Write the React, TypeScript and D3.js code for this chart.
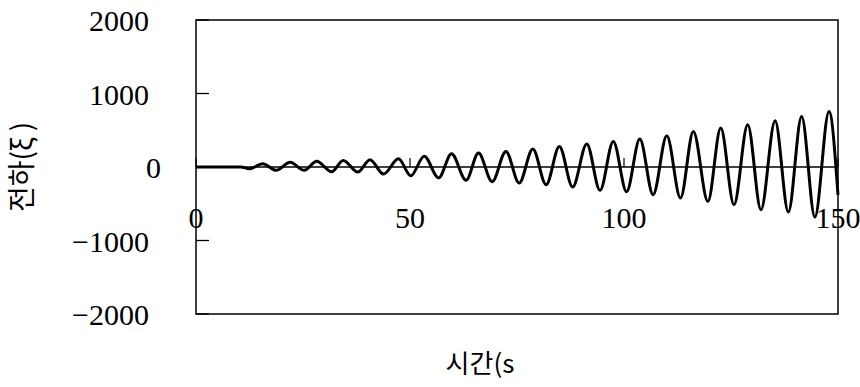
import React from "react";
import * as d3 from "d3";

const times = [
  0, 10.5, 12.5, 15.6, 18.7, 22.0, 25.3, 28.2, 31.7, 34.4, 37.8, 40.65, 43.8, 47.3,
  50.2, 53.3, 56.7, 59.7, 63.1, 66.0, 69.2, 72.4, 75.5, 78.7, 81.8, 84.9, 88.0,
  91.3, 94.4, 97.5, 100.6, 103.7, 106.8, 110.0, 113.2, 116.2, 119.6, 122.6, 125.7,
  128.9, 132.0, 135.3, 138.4, 141.5, 144.6, 147.9, 150,
];
const values = [
  0, 0, -25, 45, -45, 63, -45, 79, -65, 88, -69, 99, -96, 111,
  -120, 147, -148, 179, -181, 190, -200, 212, -218, 245, -241, 280, -272,
  313, -318, 348, -336, 381, -377, 426, -422, 484, -468, 531, -513,
  575, -581, 630, -612, 688, -680, 756, -380,
];

const xTicks = [0, 50, 100, 150];
const yTicks = [2000, 1000, 0, -1000, -2000];
const xTitle = "시간(s";
const yTitle = "전하(ξ )";

const W = 860;
const H = 387;
const left = 196;
const right = 838;
const top = 20;
const bottom = 314;

export default function App() {
  const x = d3.scaleLinear().domain([0, 150]).range([left, right]);
  const y = d3.scaleLinear().domain([-2000, 2000]).range([bottom, top]);
  const pts: [number, number][] = times.map((t, i) => [t, values[i]]);
  const line = d3
    .line<[number, number]>()
    .x((d) => x(d[0]))
    .y((d) => y(d[1]))
    .curve(d3.curveMonotoneX);

  const numFont = "'Liberation Serif', 'DejaVu Serif', serif";
  const krFont = "'Noto Sans CJK KR', 'Noto Sans', sans-serif";

  return (
    <svg
      width={W}
      height={H}
      style={{ position: "absolute", left: 0, top: 0, background: "#fff" }}
    >
      <rect x={0} y={0} width={W} height={H} fill="#fff" />
      {/* frame */}
      <rect
        x={left}
        y={top}
        width={right - left}
        height={bottom - top}
        fill="none"
        stroke="#000"
        strokeWidth={1.5}
      />
      {/* zero line (x axis) */}
      <line x1={left} x2={right} y1={y(0)} y2={y(0)} stroke="#000" strokeWidth={1.4} />
      {/* y ticks inside */}
      {yTicks.map((v) => (
        <line key={"yt" + v} x1={left} x2={left + 13} y1={y(v)} y2={y(v)} stroke="#000" strokeWidth={1.3} />
      ))}
      {/* x ticks above zero line */}
      {xTicks.map((t) => (
        <line key={"xt" + t} x1={x(t)} x2={x(t)} y1={y(0)} y2={y(0) - 9} stroke="#000" strokeWidth={1.2} />
      ))}
      {/* signal */}
      <path d={line(pts) || ""} fill="none" stroke="#000" strokeWidth={3} strokeLinejoin="round" />
      {/* y tick labels */}
      {yTicks.map((v) => (
        <text
          key={"yl" + v}
          x={v === 0 ? 161 : 149}
          y={y(v)}
          dy="0.38em"
          textAnchor="end"
          fontFamily={numFont}
          fontSize={30}
          fill="#000"
        >
          {v < 0 ? "\u2212" + Math.abs(v) : String(v)}
        </text>
      ))}
      {/* x tick labels */}
      {xTicks.map((t) => (
        <text
          key={"xl" + t}
          x={x(t)}
          y={228}
          textAnchor="middle"
          fontFamily={numFont}
          fontSize={30}
          fill="#000"
        >
          {t}
        </text>
      ))}
      {/* axis titles */}
      <text
        x={480}
        y={373}
        textAnchor="middle"
        fontFamily={krFont}
        fontSize={26}
        fill="#000"
      >
        {xTitle}
      </text>
      <text
        transform={`translate(32, ${167}) rotate(-90)`}
        textAnchor="middle"
        fontFamily={krFont}
        fontSize={28}
        fill="#000"
      >
        {yTitle}
      </text>
    </svg>
  );
}
